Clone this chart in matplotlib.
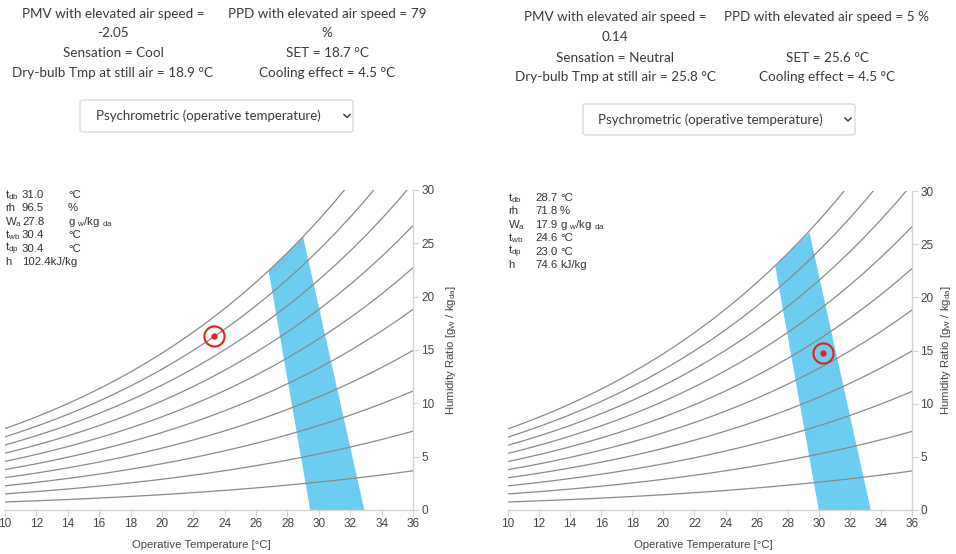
import numpy as np
import matplotlib
matplotlib.use("Agg")
import matplotlib.pyplot as plt
from matplotlib.patches import FancyBboxPatch, Polygon
from matplotlib.lines import Line2D

plt.rcParams["mathtext.fontset"] = "custom"
plt.rcParams["mathtext.rm"] = "Liberation Sans"
plt.rcParams["mathtext.it"] = "Liberation Sans"

# Saturation vapour pressure of water [kPa] by dry-bulb temperature [°C]
sat_temp = [10, 11, 12, 13, 14, 15, 16, 17, 18, 19, 20, 21, 22, 23, 24, 25,
            26, 27, 28, 29, 30, 31, 32, 33, 34, 35, 36]
sat_press = [1.2282, 1.3130, 1.4028, 1.4981, 1.5990, 1.7058, 1.8188, 1.9384,
             2.0647, 2.1983, 2.3393, 2.4882, 2.6453, 2.8111, 2.9858, 3.1699,
             3.3639, 3.5681, 3.7831, 4.0092, 4.2470, 4.4969, 4.7596, 5.0354,
             5.3251, 5.6290, 5.9479]
rh_levels = [10, 20, 30, 40, 50, 60, 70, 80, 90, 100]
atm_press = 101.325

# Comfort zone outlines (operative temperature [°C], humidity ratio [g/kg])
zone_left_t = [29.45, 32.9, 29.0, 28.0, 26.8]
zone_left_w = [0.0, 0.0, 25.6, 24.1, 22.4]
zone_right_t = [30.0, 33.35, 29.4, 28.0, 27.2]
zone_right_w = [0.0, 0.0, 26.1, 24.1, 22.9]

# Current state points
point_left = (23.35, 16.3)
point_right = (30.3, 14.8)

x_ticks = list(range(10, 37, 2))
y_ticks = [0, 5, 10, 15, 20, 25, 30]

# Results text
left_results = {
    "pmv": "PMV with elevated air speed =", "pmv_val": "-2.05",
    "ppd": "PPD with elevated air speed = 79", "ppd_val": "%",
    "sens": "Sensation = Cool", "set": "SET = 18.7 °C",
    "dbt": "Dry-bulb Tmp at still air = 18.9 °C", "cool": "Cooling effect = 4.5 °C",
}
right_results = {
    "pmv": "PMV with elevated air speed =", "pmv_val": "0.14",
    "ppd": "PPD with elevated air speed = 5 %", "ppd_val": "",
    "sens": "Sensation = Neutral", "set": "SET = 25.6 °C",
    "dbt": "Dry-bulb Tmp at still air = 25.8 °C", "cool": "Cooling effect = 4.5 °C",
}
left_info = [("t$_{db}$", "31.0", "°C"), ("rh", "96.5", "%"),
             ("W$_a$", "27.8", "g $_{w}$/kg $_{da}$"), ("t$_{wb}$", "30.4", "°C"),
             ("t$_{dp}$", "30.4", "°C"), ("h", "102.4kJ/kg", "")]
right_info = [("t$_{db}$", "28.7", "°C"), ("rh", "71.8", "%"),
              ("W$_a$", "17.9", "g $_{w}$/kg $_{da}$"), ("t$_{wb}$", "24.6", "°C"),
              ("t$_{dp}$", "23.0", "°C"), ("h", "74.6", "kJ/kg")]

W, H = 956, 554
fig = plt.figure(figsize=(W / 100, H / 100), dpi=100)
fig.patch.set_facecolor("white")


def fp(x, y):
    return x / W, 1 - y / H


TOP_FONT = "Lato"
TOP_COLOR = "#3a3a3a"


def results_block(res, cx1, cx2, ys):
    kw = dict(ha="center", va="center", fontsize=9.7, color=TOP_COLOR, family=TOP_FONT)
    fig.text(*fp(cx1, ys[0]), res["pmv"], **kw)
    fig.text(*fp(cx1, ys[1]), res["pmv_val"], **kw)
    fig.text(*fp(cx1, ys[2]), res["sens"], **kw)
    fig.text(*fp(cx1, ys[3]), res["dbt"], **kw)
    fig.text(*fp(cx2, ys[0]), res["ppd"], **kw)
    if res["ppd_val"]:
        fig.text(*fp(cx2, ys[1]), res["ppd_val"], **kw)
    fig.text(*fp(cx2, ys[2]), res["set"], **kw)
    fig.text(*fp(cx2, ys[3]), res["cool"], **kw)


def dropdown(x0, y0, x1, y1, tx, chev_x):
    box = FancyBboxPatch(fp(x0, y1), (x1 - x0) / W, (y1 - y0) / H,
                         boxstyle="round,pad=0,rounding_size=0.004",
                         transform=fig.transFigure, facecolor="white",
                         edgecolor="#d8d8d8", linewidth=0.9)
    fig.patches.append(box)
    fig.text(*fp(tx, (y0 + y1) / 2), "Psychrometric (operative temperature)",
             ha="center", va="center", fontsize=9.5, color=TOP_COLOR, family=TOP_FONT)
    cy = (y0 + y1) / 2
    xs = [chev_x - 3, chev_x, chev_x + 3]
    ys = [cy - 1.5, cy + 1.5, cy - 1.5]
    fig.lines.append(Line2D([x / W for x in xs], [1 - y / H for y in ys],
                            transform=fig.transFigure, color="#444444", lw=1.1))


def info_block(rows, x_lab, x_val, x_unit, y0, dy):
    kw = dict(va="center", fontsize=8.2, color="#333333", family="Liberation Sans")
    for i, (lab, val, unit) in enumerate(rows):
        y = y0 + i * dy
        fig.text(*fp(x_lab, y), lab, ha="left", **kw)
        fig.text(*fp(x_val, y), val, ha="left", **kw)
        if unit:
            fig.text(*fp(x_unit, y), unit, ha="left", **kw)


def psychro_panel(rect, zone_t, zone_w, pt):
    ax = fig.add_axes(rect)
    t = np.array(sat_temp, dtype=float)
    p = np.array(sat_press)
    for rh in rh_levels:
        pv = rh / 100.0 * p
        w = 622.0 * pv / (atm_press - pv)
        ax.plot(t, w, color="#8a8a8a", lw=0.9, zorder=3, solid_capstyle="butt")
    ax.add_patch(Polygon(np.column_stack([zone_t, zone_w]), closed=True,
                         facecolor="#6ccdf0", edgecolor="none", zorder=2))
    ax.plot([pt[0]], [pt[1]], "o", ms=14.5, mfc="none", mec="#ee1c1c", mew=1.5, zorder=5)
    ax.plot([pt[0]], [pt[1]], "o", ms=3.5, color="#ee1c1c", zorder=5)
    ax.set_xlim(10, 36)
    ax.set_ylim(0, 30)
    ax.set_xticks(x_ticks)
    ax.set_yticks(y_ticks)
    ax.yaxis.tick_right()
    for s in ("top", "left"):
        ax.spines[s].set_visible(False)
    for s in ("bottom", "right"):
        ax.spines[s].set_color("#d4d4d4")
        ax.spines[s].set_linewidth(1.0)
    ax.tick_params(length=4, width=0.8, color="#d4d4d4", labelcolor="#444444",
                   labelsize=8.5, pad=2)
    for lab in ax.get_xticklabels() + ax.get_yticklabels():
        lab.set_family("Liberation Sans")
    return ax


# Left panel
results_block(left_results, 113, 327, [14, 33, 53, 73])
dropdown(80, 100, 353, 132, 208, 347)
ax1 = psychro_panel([5 / W, 44 / H, 408 / W, 320 / H], zone_left_t, zone_left_w, point_left)
info_block(left_info, 5, 22, 68, 195, 13.4)
fig.text(*fp(201, 545), "Operative Temperature [°C]", ha="center", va="center",
         fontsize=8.2, color="#444444", family="Liberation Sans")
fig.text(*fp(451, 350), "Humidity Ratio [g$_{\\mathrm{W}}$ / kg$_{\\mathrm{da}}$]",
         ha="center", va="center", rotation=90, fontsize=8.2, color="#444444",
         family="Liberation Sans")

# Right panel
results_block(right_results, 615, 827, [17, 37, 58, 77])
dropdown(583, 104, 855, 135, 710, 848)
ax2 = psychro_panel([508 / W, 44 / H, 404 / W, 319 / H], zone_right_t, zone_right_w, point_right)
info_block(right_info, 508, 535, 560, 198, 13.4)
fig.text(*fp(703, 545), "Operative Temperature [°C]", ha="center", va="center",
         fontsize=8.2, color="#444444", family="Liberation Sans")
fig.text(*fp(946, 350), "Humidity Ratio [g$_{\\mathrm{W}}$ / kg$_{\\mathrm{da}}$]",
         ha="center", va="center", rotation=90, fontsize=8.2, color="#444444",
         family="Liberation Sans")

fig.savefig("out.png", dpi=100, facecolor="white")
